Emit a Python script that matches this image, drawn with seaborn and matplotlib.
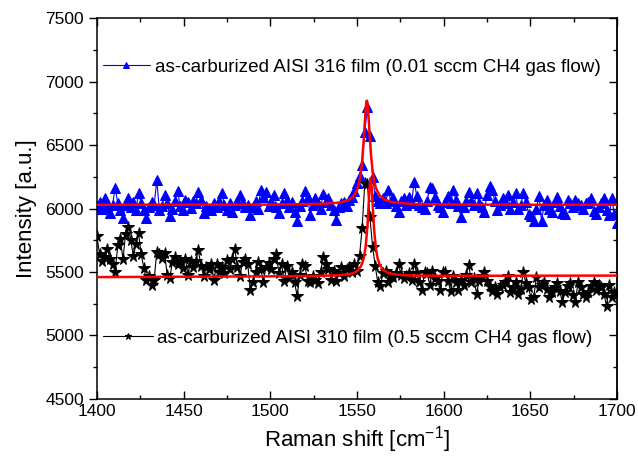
import matplotlib
matplotlib.use("Agg")
import numpy as np
import pandas as pd
import seaborn as sns
import matplotlib.pyplot as plt
from matplotlib.ticker import MultipleLocator

# Raman shift grid (cm^-1), 1.5 cm^-1 sampling
shift = np.linspace(1400, 1700, 201)

# as-carburized AISI 316 film (0.01 sccm CH4)
aisi316 = [
    6020, 6050, 6000, 6080, 6010, 5965, 6030, 6165, 6040, 5990,
    5925, 6030, 6080, 6010, 6050, 5990, 6120, 6040, 5985, 5925,
    6010, 6050, 6030, 6225, 5990, 6020, 6105, 6040, 5945, 6000,
    6060, 6135, 6020, 5985, 6070, 6050, 6005, 6060, 6040, 6130,
    6070, 5965, 6020, 6000, 5990, 6045, 6010, 6060, 6120, 6030,
    5985, 6040, 5975, 6030, 6060, 6105, 6040, 6010, 6030, 5950,
    6010, 6060, 6000, 6150, 6090, 6130, 6020, 6050, 6105, 6010,
    5965, 6040, 6125, 6070, 6010, 6050, 5975, 5900, 6020, 6060,
    6140, 6090, 5950, 6030, 6080, 6040, 6000, 6115, 6050, 6080,
    6030, 5990, 5910, 6010, 6040, 6050, 6020, 6070, 6090, 6135,
    6200, 6260, 6340, 6600, 6800, 6570, 6250, 6100, 6060, 6040,
    6080, 6040, 6145, 6060, 6080, 6020, 5975, 6060, 6080, 6030,
    6090, 6040, 6210, 6100, 6030, 6010, 5995, 6060, 6170, 6165,
    6090, 6030, 6010, 5975, 6050, 6095, 6040, 6145, 6070, 6020,
    5935, 6010, 6060, 6130, 6060, 6030, 6120, 6040, 6010, 5975,
    6110, 6180, 6150, 6060, 5990, 6030, 6080, 6045, 6110, 6000,
    6050, 6125, 5995, 6030, 6120, 6050, 5960, 5940, 5900, 6000,
    6100, 5900, 6030, 6070, 6000, 5970, 6050, 6090, 6020, 5965,
    5960, 6070, 6040, 6010, 6070, 6040, 6030, 5995, 6040, 6050,
    6080, 5980, 5955, 6010, 6040, 6080, 5990, 5950, 6080, 5960,
    5890,
]

# as-carburized AISI 310 film (0.5 sccm CH4)
aisi310 = [
    5780, 5640, 5585, 5620, 5680, 5600, 5560, 5500, 5710, 5760,
    5600, 5800, 5855, 5750, 5625, 5720, 5805, 5640, 5535, 5440,
    5470, 5400, 5440, 5660, 5640, 5610, 5650, 5480, 5450, 5580,
    5620, 5560, 5590, 5530, 5600, 5480, 5590, 5540, 5590, 5670,
    5550, 5470, 5540, 5520, 5560, 5440, 5560, 5500, 5540, 5490,
    5595, 5520, 5600, 5685, 5540, 5470, 5580, 5600, 5560, 5355,
    5420, 5500, 5580, 5520, 5425, 5540, 5570, 5520, 5600, 5640,
    5490, 5560, 5430, 5545, 5450, 5500, 5420, 5310, 5480, 5560,
    5545, 5430, 5420, 5470, 5440, 5410, 5500, 5620, 5560, 5520,
    5440, 5510, 5430, 5490, 5540, 5470, 5520, 5540, 5500, 5560,
    5510, 5630, 5850, 6200, 6190, 5930, 5700, 5550, 5420, 5390,
    5490, 5510, 5420, 5470, 5460, 5490, 5560, 5480, 5450, 5470,
    5490, 5440, 5560, 5490, 5420, 5360, 5500, 5490, 5400, 5510,
    5450, 5430, 5360, 5500, 5500, 5430, 5350, 5470, 5420, 5360,
    5440, 5400, 5480, 5555, 5420, 5450, 5330, 5430, 5470, 5500,
    5430, 5390, 5350, 5380, 5330, 5380, 5400, 5420, 5470, 5340,
    5380, 5420, 5330, 5370, 5500, 5410, 5380, 5290, 5300, 5460,
    5380, 5400, 5420, 5370, 5300, 5340, 5380, 5410, 5350, 5260,
    5340, 5390, 5410, 5320, 5260, 5420, 5380, 5330, 5300, 5340,
    5390, 5420, 5360, 5400, 5380, 5330, 5230, 5400, 5300, 5340,
    5330,
]

# Lorentzian fit curves, tabulated
fit316_x = [1400, 1500, 1530, 1540, 1545, 1548, 1550, 1551, 1552, 1553,
            1554, 1554.5, 1555, 1555.5, 1555.7, 1556, 1556.5, 1557, 1558,
            1559, 1560, 1561, 1563, 1566, 1570, 1580, 1600, 1650, 1700]
fit316_y = [6030, 6031, 6037, 6047, 6066, 6097, 6145, 6188, 6258, 6375,
            6560, 6675, 6780, 6844, 6850, 6836, 6761, 6652, 6440,
            6298, 6212, 6160, 6104, 6069, 6051, 6037, 6032, 6030, 6030]

fit310_x = [1400, 1500, 1530, 1540, 1545, 1548, 1550, 1552, 1553, 1554,
            1555, 1556, 1556.5, 1557, 1557.5, 1557.9, 1558.5, 1559, 1560,
            1561, 1562, 1563, 1565, 1568, 1572, 1580, 1600, 1650, 1700]
fit310_y = [5460, 5466, 5470, 5475, 5482, 5493, 5508, 5539, 5567, 5615,
            5699, 5854, 5968, 6099, 6208, 6241, 6171, 6047, 5815,
            5678, 5603, 5561, 5518, 5493, 5481, 5473, 5470, 5471, 5472]

label316 = "as-carburized AISI 316 film (0.01 sccm CH4 gas flow)"
label310 = "as-carburized AISI 310 film (0.5 sccm CH4 gas flow)"

sns.set_theme(style="white")
plt.rcParams["font.family"] = ["Liberation Sans", "DejaVu Sans"]
plt.rcParams["text.color"] = "black"
plt.rcParams["axes.labelcolor"] = "black"
plt.rcParams["mathtext.fontset"] = "custom"
plt.rcParams["mathtext.rm"] = "Liberation Sans"
plt.rcParams["mathtext.it"] = "Liberation Sans:italic"

fig = plt.figure(figsize=(6.38, 4.65), dpi=100)
ax = fig.add_axes([0.152, 0.142, 0.815, 0.819])

sns.lineplot(x=shift, y=aisi310, ax=ax, color="black", linewidth=0.8,
             marker="*", markersize=8.5, markeredgecolor="black",
             markerfacecolor="black", estimator=None, sort=False,
             label=label310, legend=False)
sns.lineplot(x=shift, y=aisi316, ax=ax, color="blue", linewidth=0.8,
             marker="^", markersize=7, markeredgecolor="blue",
             markerfacecolor="blue", estimator=None, sort=False,
             label=label316, legend=False)
sns.lineplot(x=fit316_x, y=fit316_y, ax=ax, color="red", linewidth=1.8,
             estimator=None, sort=False, legend=False, zorder=4)
sns.lineplot(x=fit310_x, y=fit310_y, ax=ax, color="red", linewidth=1.8,
             estimator=None, sort=False, legend=False, zorder=4)

line310, line316 = ax.get_lines()[0], ax.get_lines()[1]

ax.set_xlim(1400, 1700)
ax.set_ylim(4500, 7500)
ax.xaxis.set_major_locator(MultipleLocator(50))
ax.xaxis.set_minor_locator(MultipleLocator(25))
ax.yaxis.set_major_locator(MultipleLocator(500))
ax.yaxis.set_minor_locator(MultipleLocator(250))

for s in ax.spines.values():
    s.set_visible(True)
    s.set_color("black")
    s.set_linewidth(1.1)

ax.tick_params(axis="x", which="both", direction="in", top=True, bottom=True,
               colors="black", labelsize=12.5)
ax.tick_params(axis="x", which="major", length=6, width=1.0)
ax.tick_params(axis="x", which="minor", length=3, width=1.0)
ax.tick_params(axis="y", which="both", direction="out", left=True, right=False,
               colors="black", labelsize=12.5)
ax.tick_params(axis="y", which="major", length=6, width=1.0)
ax.tick_params(axis="y", which="minor", length=3, width=1.0)

right = ax.secondary_yaxis("right")
right.yaxis.set_major_locator(MultipleLocator(500))
right.yaxis.set_minor_locator(MultipleLocator(250))
right.tick_params(which="both", direction="in", labelright=False, colors="black")
right.tick_params(which="major", length=6, width=1.0)
right.tick_params(which="minor", length=3, width=1.0)
right.spines["right"].set_linewidth(1.1)

ax.set_xlabel("Raman shift [cm$^{-1}$]", fontsize=16, color="black", labelpad=4)
ax.set_ylabel("Intensity [a.u.]", fontsize=16, color="black", labelpad=6)

leg1 = ax.legend(handles=[line316], loc="center left",
                 bbox_to_anchor=(0.0, 0.871), frameon=False, fontsize=13.6,
                 handlelength=2.5, handletextpad=0.25, markerscale=0.55,
                 borderaxespad=0.0, borderpad=0.3, labelcolor="black")
ax.add_artist(leg1)
ax.legend(handles=[line310], loc="center left",
          bbox_to_anchor=(0.0, 0.16), frameon=False, fontsize=13.6,
          handlelength=2.65, handletextpad=0.25, markerscale=0.55,
          borderaxespad=0.0, borderpad=0.3, labelcolor="black")

fig.savefig("out.png", dpi=100, facecolor="white")
